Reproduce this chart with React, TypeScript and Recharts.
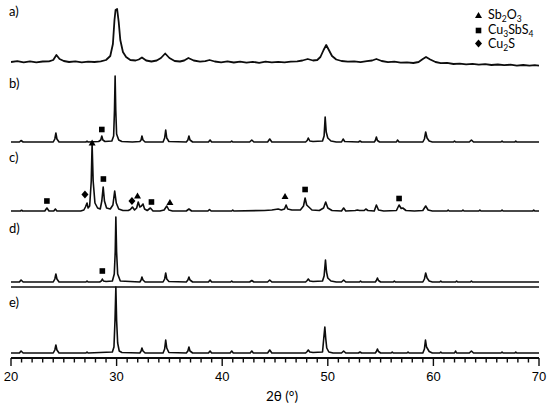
import React from 'react';
import { ComposedChart, Line, Scatter, XAxis, YAxis, ReferenceLine } from 'recharts';

// 2θ (deg), intensity above the pattern's own baseline (arbitrary units)
const patternA: [number, number][] = [
  [20, 0], [20.6, 0.8], [21.2, -0.4], [21.8, 0.6], [22.4, -0.3], [23, 0.5], [23.6, 0.6], [24.0, 2], [24.3, 7], [24.6, 3], [25.0, 1],
  [25.5, 0], [26.1, 0.6], [26.7, -0.3], [27.3, 0.4], [27.9, 0], [28.5, 0.6], [29.0, 2], [29.4, 6], [29.65, 18], [29.8, 42],
  [29.9, 52], [30.05, 53], [30.2, 40], [30.35, 22], [30.6, 10], [30.9, 5], [31.3, 2], [31.8, 1.5], [32.1, 2.5], [32.4, 4.5],
  [32.8, 1.5], [33.3, 0.5], [33.8, 1.5], [34.2, 4], [34.6, 8.5], [35.0, 4], [35.5, 1], [36.0, 0.5], [36.4, 1.5], [36.8, 4],
  [37.3, 1.5], [37.9, 0.3], [38.4, 0.8], [38.8, 2], [39.3, 0.5], [39.9, -0.3], [40.5, 0.6], [41.1, -0.5], [41.7, 0.3],
  [42.3, -0.6], [42.9, 0.2], [43.5, -0.8], [44.1, 0.3], [44.7, -0.4], [45.3, 0.2], [45.9, -0.3], [46.5, 0.4], [47.1, 0.6],
  [47.6, 1.5], [48.1, 3], [48.6, 1.5], [49.0, 2], [49.3, 5], [49.6, 12], [49.85, 17], [50.1, 12], [50.4, 6], [50.8, 2.5],
  [51.3, 1], [51.9, 0.3], [52.5, 0.6], [53.1, -0.2], [53.7, 0.8], [54.2, 1.5], [54.6, 3], [55.1, 1], [55.7, -0.2], [56.3, 0.3],
  [56.9, -0.6], [57.5, -0.3], [58.1, -1], [58.6, 0], [59.0, 3], [59.3, 5], [59.7, 2.5], [60.2, 0], [60.7, -1.2], [61.3, -0.8],
  [61.9, -2], [62.5, -1.6], [63.1, -2.4], [63.7, -1.8], [64.3, -2.6], [64.9, -2.2], [65.5, -3], [66.1, -2.5], [66.7, -3.2],
  [67.3, -2.7], [67.9, -3.6], [68.5, -3], [69.1, -3.7], [69.6, -3.2], [70, -3.6],
];

const patternB: [number, number][] = [
  [20, 0], [20.8, 0], [20.95, 1.5], [21.15, 0],
  [24.0, 0], [24.15, 3], [24.25, 9], [24.35, 3], [24.55, 0],
  [25.5, 0], [27.1, 0], [27.2, 0.8], [27.3, 0], [28.3, 0.5], [28.5, 2], [28.6, 6], [28.7, 2], [28.9, 0.5],
  [29.55, 1], [29.72, 6], [29.8, 32], [29.86, 66], [29.92, 32], [30.0, 8], [30.2, 2], [30.5, 0.5],
  [31.5, 0], [32.2, 0.5], [32.32, 2], [32.4, 6], [32.5, 2], [32.7, 0],
  [34.4, 0], [34.55, 4], [34.65, 12], [34.75, 4], [34.95, 0.5],
  [36.6, 0], [36.75, 2], [36.85, 6], [36.95, 2], [37.2, 0],
  [38.7, 0], [38.85, 2], [39.0, 0],
  [40.8, 0], [40.9, 1], [41.0, 0],
  [42.6, 0], [42.8, 2], [43.0, 0],
  [44.3, 0], [44.5, 3], [44.7, 0],
  [47.9, 0], [48.05, 1.5], [48.15, 4], [48.3, 1], [48.6, 0.5],
  [49.5, 1], [49.65, 6], [49.75, 25], [49.85, 10], [50.0, 4], [50.3, 1], [50.8, 0],
  [51.3, 0], [51.45, 3], [51.6, 0.5],
  [52.9, 0], [53.05, 1], [53.2, 0],
  [54.4, 0], [54.5, 1.5], [54.6, 5], [54.7, 1.5], [54.9, 0],
  [56.5, 0], [56.6, 2], [56.75, 0],
  [59.0, 0], [59.15, 3], [59.27, 10], [59.4, 4], [59.6, 1], [59.9, 0],
  [61.9, 0], [62.0, 1], [62.1, 0],
  [63.4, 0], [63.6, 2], [63.8, 0],
  [66.4, 0], [66.5, 1], [66.6, 0],
  [67.7, 0], [67.8, 1], [67.9, 0],
  [70, 0],
];

const patternC: [number, number][] = [
  [20, 0], [20.9, 0], [21.0, 0.8], [21.1, 0], [23.2, 0], [23.4, 3], [23.6, 0], [24.05, 0], [24.2, 2], [24.35, 0],
  [26.6, 0], [26.9, 1], [27.05, 4], [27.2, 8], [27.3, 3], [27.45, 5], [27.6, 30], [27.68, 67], [27.78, 30], [27.95, 8],
  [28.2, 3], [28.45, 2], [28.6, 10], [28.73, 24], [28.85, 10], [29.05, 3], [29.4, 2], [29.65, 6], [29.82, 20], [29.97, 8],
  [30.2, 2], [30.6, 0.5], [31.1, 0.5], [31.3, 1.5], [31.5, 4], [31.7, 1], [31.9, 3], [32.05, 9], [32.2, 4], [32.35, 5],
  [32.5, 7], [32.65, 2], [32.9, 0.5], [33.2, 3], [33.45, 0], [34.1, 0], [34.5, 1], [34.75, 5], [34.95, 1], [35.3, 0],
  [36.6, 0], [36.85, 2], [37.1, 0], [38.65, 0], [38.8, 1.5], [38.95, 0], [40.9, 0], [41.0, 1], [41.1, 0],
  [44.0, 0.5], [44.7, 1], [45.3, 2], [45.6, 1], [45.9, 2], [46.05, 6], [46.2, 2], [46.6, 1], [47.4, 1], [47.7, 5],
  [47.85, 13], [48.0, 6], [48.2, 4], [48.5, 1], [49.2, 0.5], [49.6, 3], [49.8, 9], [50.0, 3], [50.4, 0.5],
  [51.3, 0], [51.5, 3], [51.7, 0], [52.6, 0.5], [52.8, 1], [53.0, 0.5], [53.45, 0.5], [53.6, 2], [53.8, 0.5],
  [54.4, 0], [54.6, 6], [54.8, 1], [55.3, 0], [56.5, 0.5], [56.75, 6], [56.95, 2.5], [57.1, 3], [57.4, 0.5], [58.2, 0],
  [59.0, 0.5], [59.27, 5], [59.5, 1], [59.9, 0], [61.3, 0], [61.4, 1], [61.5, 0], [62.7, 0], [62.8, 1], [62.9, 0],
  [64.3, 0], [64.4, 1], [64.5, 0], [66.4, 0], [66.5, 1], [66.6, 0], [69.4, 0], [69.5, 1], [69.6, 0], [70, 0],
];

const patternD: [number, number][] = [
  [20, 0], [20.8, 0], [20.95, 2], [21.15, 0],
  [24.0, 0], [24.15, 3], [24.25, 8], [24.35, 3], [24.55, 0],
  [27.1, 0], [27.2, 1], [27.3, 0],
  [28.4, 0], [28.55, 1], [28.65, 3], [28.75, 1], [29.0, 0.5],
  [29.6, 1], [29.78, 8], [29.87, 30], [29.93, 65], [30.0, 30], [30.1, 8], [30.35, 1],
  [32.2, 0], [32.32, 2], [32.4, 5], [32.5, 2], [32.7, 0],
  [34.4, 0], [34.55, 3], [34.65, 9], [34.75, 3], [34.95, 0.5],
  [36.6, 0], [36.75, 2], [36.85, 5], [36.95, 2], [37.2, 0],
  [38.7, 0], [38.85, 2], [39.0, 0],
  [40.8, 0], [40.9, 1], [41.0, 0],
  [42.6, 0], [42.8, 1.5], [43.0, 0],
  [44.3, 0], [44.5, 2], [44.7, 0],
  [47.9, 0], [48.05, 1.5], [48.15, 3], [48.3, 1], [48.6, 0.5],
  [49.5, 1], [49.65, 6], [49.78, 22], [49.88, 10], [50.0, 4], [50.3, 1], [50.8, 0],
  [51.3, 0], [51.5, 2], [51.7, 0],
  [53.0, 0], [53.1, 1], [53.2, 0],
  [54.5, 0], [54.6, 1.5], [54.7, 4], [54.8, 1.5], [55.0, 0],
  [56.2, 0], [56.3, 1], [56.4, 0],
  [59.0, 0], [59.15, 3], [59.27, 9], [59.4, 4], [59.6, 1], [59.9, 0],
  [60.6, 0], [60.7, 1], [60.8, 0], [62.1, 0], [62.2, 1], [62.3, 0], [63.5, 0], [63.6, 1], [63.7, 0],
  [70, 0],
];

const patternE: [number, number][] = [
  [20, 0], [20.8, 0], [20.95, 2], [21.15, 0],
  [24.0, 0], [24.15, 3], [24.25, 8], [24.35, 3], [24.55, 0],
  [27.1, 0], [27.2, 1], [27.3, 0],
  [29.6, 1], [29.75, 6], [29.85, 33], [29.93, 66], [30.0, 33], [30.1, 10], [30.25, 2], [30.5, 0.5],
  [32.2, 0], [32.32, 2], [32.4, 5], [32.5, 2], [32.7, 0],
  [34.4, 0], [34.55, 4], [34.65, 13], [34.75, 5], [34.95, 0.5],
  [36.6, 0], [36.75, 2], [36.85, 6], [36.95, 2], [37.2, 0],
  [38.7, 0], [38.85, 2], [39.0, 0],
  [40.75, 0], [40.9, 2], [41.05, 0],
  [42.65, 0], [42.8, 2], [42.95, 0],
  [44.3, 0], [44.5, 3], [44.7, 0],
  [47.9, 0], [48.05, 1.5], [48.15, 3], [48.3, 1], [48.6, 0.5],
  [49.5, 1], [49.62, 15], [49.72, 26], [49.8, 15], [49.9, 5], [50.1, 1], [50.5, 0],
  [51.3, 0], [51.5, 2], [51.7, 0],
  [52.9, 0], [53.05, 1], [53.2, 0],
  [54.5, 0], [54.6, 1.5], [54.7, 4], [54.8, 1.5], [55.0, 0],
  [56.0, 0], [56.1, 1], [56.2, 0], [57.5, 0], [57.6, 1], [57.7, 0],
  [59.0, 0], [59.15, 4], [59.25, 13], [59.35, 6], [59.6, 1.5], [59.9, 0],
  [60.6, 0], [60.7, 1], [60.8, 0], [62.0, 0], [62.1, 2], [62.2, 0], [63.4, 0], [63.6, 2], [63.8, 0],
  [66.4, 0], [66.5, 1], [66.6, 0], [67.7, 0], [67.8, 1], [67.9, 0],
  [70, 0],
];

const patterns = [patternA, patternB, patternC, patternD, patternE];
const patternLabels = ['a)', 'b)', 'c)', 'd)', 'e)'];
// vertical stacking offsets of each pattern (same units as intensity)
const patternOffsets = [296, 216, 147, 76, 5];
const separatorLevel = 71;

// phase markers: [pattern index, 2θ, height above that pattern's baseline]
const sb2o3Marks: [number, number, number][] = [
  [2, 27.68, 68], [2, 31.98, 15], [2, 35.05, 8.5], [2, 45.95, 14.5],
];
const cu3sbs4Marks: [number, number, number][] = [
  [1, 28.6, 12.5], [2, 23.4, 10], [2, 28.75, 32], [2, 33.3, 9], [2, 47.85, 21.5], [2, 56.75, 12.5], [3, 28.65, 11],
];
const cu2sMarks: [number, number, number][] = [
  [2, 27.0, 16.5], [2, 31.45, 10],
];

const majorTicks = [20, 30, 40, 50, 60, 70];
const allTicks: number[] = [];
for (let t = 20; t <= 70; t++) allTicks.push(t);

const toSeries = (pts: [number, number][], off: number) => pts.map(([x, v]) => ({ x, y: off + v }));
const toMarks = (m: [number, number, number][]) => m.map(([i, x, h]) => ({ x, y: patternOffsets[i] + h }));

const INK = '#0d0d0d';

const Triangle = (p: any) => {
  const { cx, cy } = p;
  return <path d={`M${cx},${cy - 3.5} L${cx + 3.5},${cy + 2.5} L${cx - 3.5},${cy + 2.5} Z`} fill="#000" />;
};
const Square = (p: any) => {
  const { cx, cy } = p;
  return <rect x={cx - 2.8} y={cy - 2.8} width={5.6} height={5.6} fill="#000" />;
};
const Diamond = (p: any) => {
  const { cx, cy } = p;
  return <path d={`M${cx},${cy - 4} L${cx + 3.5},${cy} L${cx},${cy + 4} L${cx - 3.5},${cy} Z`} fill="#000" />;
};

const AxisTick = (props: any) => {
  const { x, y, payload } = props;
  const major = majorTicks.includes(payload.value);
  return (
    <g>
      <line x1={x} x2={x} y1={y} y2={y + (major ? 8 : 4.5)} stroke={INK} strokeWidth={1.4} />
      {major && (
        <text x={x} y={y + 23} textAnchor="middle" fontSize={13} fontFamily="'Liberation Sans', Arial, sans-serif" fill="#000">
          {payload.value}
        </text>
      )}
    </g>
  );
};

const labelFont = "Lato, 'Open Sans', sans-serif";

export default function App() {
  return (
    <div style={{ position: 'absolute', left: 0, top: 0, width: 550, height: 410, background: '#fff' }}>
      <ComposedChart width={550} height={410} margin={{ top: 0, right: 11, bottom: 0, left: 11 }}>
        <XAxis
          type="number"
          dataKey="x"
          domain={[20, 70]}
          ticks={allTicks}
          interval={0}
          allowDataOverflow
          height={52}
          tickSize={0}
          tickMargin={0}
          tickLine={false}
          axisLine={{ stroke: INK, strokeWidth: 1.8 }}
          tick={<AxisTick />}
          label={{ value: '2θ (°)', position: 'insideBottom', offset: 9, dx: 7, fontSize: 13.5, fontFamily: labelFont, fill: '#000' }}
        />
        <YAxis type="number" dataKey="y" domain={[0, 358]} hide allowDataOverflow />
        <ReferenceLine y={separatorLevel} stroke={INK} strokeWidth={1.7} ifOverflow="extendDomain" />
        {patterns.map((p, i) => (
          <Line
            key={i}
            data={toSeries(p, patternOffsets[i])}
            dataKey="y"
            type="linear"
            stroke={INK}
            strokeWidth={i === 0 ? 1.8 : 1.6}
            strokeLinejoin="round"
            dot={false}
            activeDot={false}
            isAnimationActive={false}
          />
        ))}
        <Scatter data={toMarks(sb2o3Marks)} dataKey="y" shape={<Triangle />} isAnimationActive={false} />
        <Scatter data={toMarks(cu3sbs4Marks)} dataKey="y" shape={<Square />} isAnimationActive={false} />
        <Scatter data={toMarks(cu2sMarks)} dataKey="y" shape={<Diamond />} isAnimationActive={false} />
        <g>
          {patternLabels.map((l, i) => (
            <text key={l} x={9} y={[16, 88, 162, 233, 307][i]} fontSize={13} fontFamily={labelFont} fill="#000">
              {l}
            </text>
          ))}
        </g>
        <g fontFamily={labelFont} fontSize={12.5} fill="#000">
          <Triangle cx={478.5} cy={15.5} />
          <text x={488} y={19}>
            Sb<tspan dy={2.5} fontSize={8.5}>2</tspan><tspan dy={-2.5}>O</tspan><tspan dy={2.5} fontSize={8.5}>3</tspan>
          </text>
          <Square cx={478.5} cy={30.5} />
          <text x={488} y={34}>
            Cu<tspan dy={2.5} fontSize={8.5}>3</tspan><tspan dy={-2.5}>SbS</tspan><tspan dy={2.5} fontSize={8.5}>4</tspan>
          </text>
          <Diamond cx={478.5} cy={43.5} />
          <text x={488} y={48}>
            Cu<tspan dy={2.5} fontSize={8.5}>2</tspan><tspan dy={-2.5}>S</tspan>
          </text>
        </g>
      </ComposedChart>
    </div>
  );
}
